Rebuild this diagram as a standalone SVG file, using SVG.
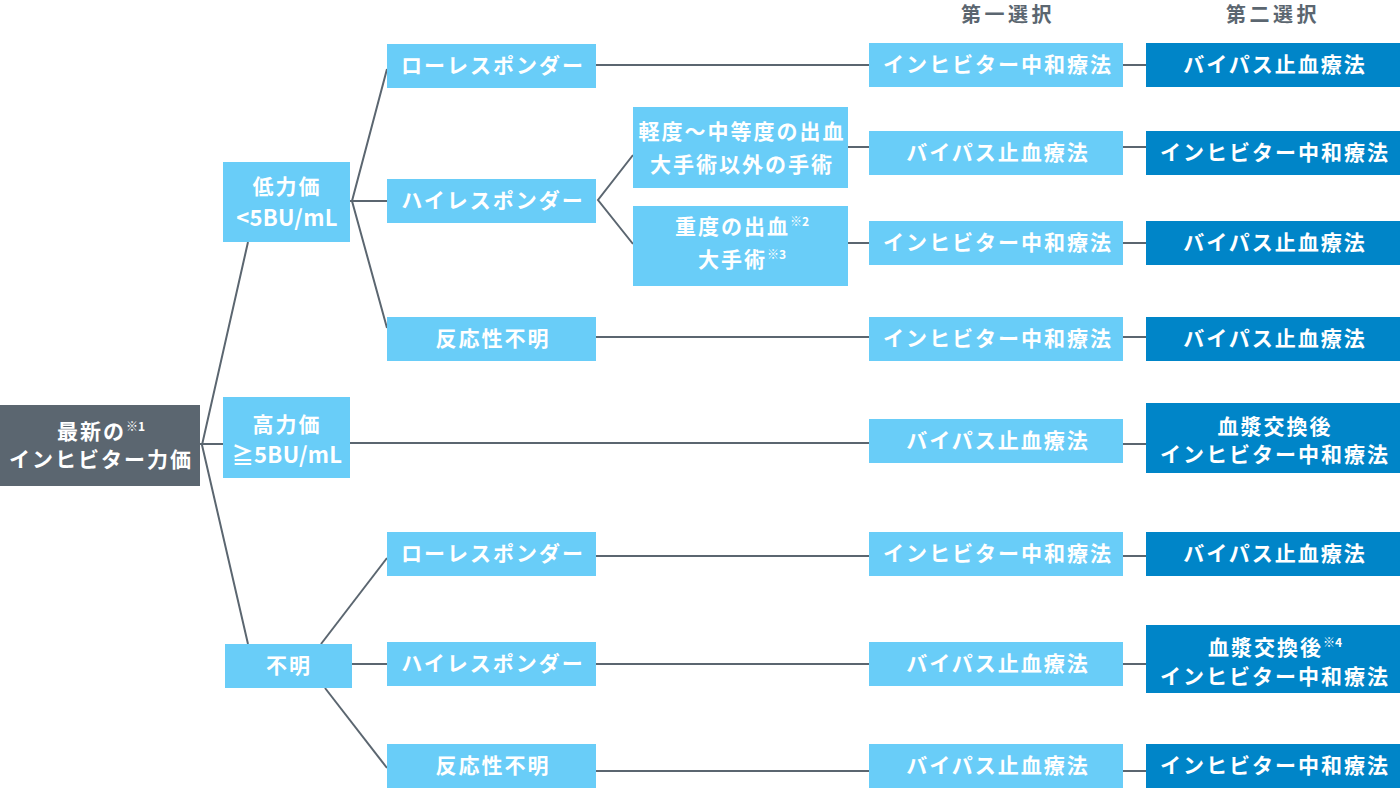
<svg xmlns="http://www.w3.org/2000/svg" width="1400" height="788" viewBox="0 0 1400 788">
<style>
.t{font-family:"Noto Sans CJK JP","Noto Sans",sans-serif;font-weight:bold;font-size:21px;fill:#fff;text-anchor:middle;letter-spacing:2px}
.l{font-size:22px;letter-spacing:0.3px}
.h{font-family:"Noto Sans CJK JP","Noto Sans",sans-serif;font-weight:bold;font-size:20px;fill:#5b6670;text-anchor:middle;letter-spacing:3.5px}
.s{font-size:12px;letter-spacing:0}
.lb{fill:#69cdf8}
.db{fill:#0085c8}
.gr{fill:#5b6670}
.c{stroke:#5b6670;stroke-width:2;fill:none}
</style>
<rect width="1400" height="788" fill="#fff"/>
<g id="connectors" class="c">
<polyline points="248,242 202,445 248,644"/>
<line x1="200" y1="444" x2="223" y2="444"/>
<line x1="350" y1="443" x2="869" y2="443"/>
<polyline points="387,69 352,201 387,328"/>
<line x1="350" y1="201" x2="387" y2="201"/>
<polyline points="633,155 598,200 633,244"/>
<line x1="596" y1="65" x2="869" y2="65"/>
<line x1="848" y1="147" x2="869" y2="147"/>
<line x1="848" y1="243" x2="869" y2="243"/>
<line x1="596" y1="337" x2="869" y2="337"/>
<polyline points="321,644 387,558"/>
<line x1="352" y1="664" x2="387" y2="664"/>
<polyline points="325,688 387,768"/>
<line x1="596" y1="556" x2="869" y2="556"/>
<line x1="596" y1="664" x2="869" y2="664"/>
<line x1="596" y1="771" x2="869" y2="771"/>
<line x1="1123" y1="65" x2="1146" y2="65"/>
<line x1="1123" y1="147" x2="1146" y2="147"/>
<line x1="1123" y1="243" x2="1146" y2="243"/>
<line x1="1123" y1="337" x2="1146" y2="337"/>
<line x1="1123" y1="444" x2="1146" y2="444"/>
<line x1="1123" y1="556" x2="1146" y2="556"/>
<line x1="1123" y1="664" x2="1146" y2="664"/>
<line x1="1123" y1="771" x2="1146" y2="771"/>
</g>
<g id="headers">
<text class="h" x="1008" y="22">第一選択</text>
<text class="h" x="1273" y="22">第二選択</text>
</g>
<g id="root"><rect class="gr" x="0" y="405" width="200" height="81"/>
<text class="t" x="101" y="439">最新の<tspan class="s" dy="-8">※1</tspan></text>
<text class="t" x="101" y="467">インヒビター力価</text></g>
<g id="low"><rect class="lb" x="223" y="162" width="127" height="80"/>
<text class="t" x="287" y="194">低力価</text>
<text class="t l" x="287" y="226">&lt;5BU/mL</text></g>
<g id="high"><rect class="lb" x="223" y="397" width="127" height="81"/>
<text class="t" x="287" y="432">高力価</text>
<text class="t l" x="287" y="463">≧5BU/mL</text></g>
<g id="unknown"><rect class="lb" x="225" y="644" width="127" height="44"/>
<text class="t" x="289" y="673">不明</text></g>
<g id="low-lr"><rect class="lb" x="387" y="44" width="209" height="44"/><text class="t" x="493" y="73">ローレスポンダー</text></g>
<g id="low-hr"><rect class="lb" x="387" y="179" width="209" height="44"/><text class="t" x="493" y="208">ハイレスポンダー</text></g>
<g id="low-unk"><rect class="lb" x="387" y="317" width="209" height="44"/><text class="t" x="493" y="346">反応性不明</text></g>
<g id="unk-lr"><rect class="lb" x="387" y="532" width="209" height="44"/><text class="t" x="493" y="561">ローレスポンダー</text></g>
<g id="unk-hr"><rect class="lb" x="387" y="642" width="209" height="44"/><text class="t" x="493" y="671">ハイレスポンダー</text></g>
<g id="unk-unk"><rect class="lb" x="387" y="744" width="209" height="44"/><text class="t" x="493" y="773">反応性不明</text></g>
<g id="mild"><rect class="lb" x="633" y="107" width="215" height="81"/>
<text class="t" x="742" y="139">軽度〜中等度の出血</text>
<text class="t" x="742" y="172">大手術以外の手術</text></g>
<g id="severe"><rect class="lb" x="633" y="206" width="215" height="80"/>
<text class="t" x="742" y="234">重度の出血<tspan class="s" dy="-8">※2</tspan></text>
<text class="t" x="742" y="267">大手術<tspan class="s" dy="-8">※3</tspan></text></g>
<g id="f1"><rect class="lb" x="869" y="43" width="254" height="44"/><text class="t" x="998" y="72">インヒビター中和療法</text></g>
<g id="f2"><rect class="lb" x="869" y="131" width="254" height="44"/><text class="t" x="998" y="160">バイパス止血療法</text></g>
<g id="f3"><rect class="lb" x="869" y="221" width="254" height="44"/><text class="t" x="998" y="250">インヒビター中和療法</text></g>
<g id="f4"><rect class="lb" x="869" y="317" width="254" height="44"/><text class="t" x="998" y="346">インヒビター中和療法</text></g>
<g id="f5"><rect class="lb" x="869" y="419" width="254" height="44"/><text class="t" x="998" y="448">バイパス止血療法</text></g>
<g id="f6"><rect class="lb" x="869" y="532" width="254" height="44"/><text class="t" x="998" y="561">インヒビター中和療法</text></g>
<g id="f7"><rect class="lb" x="869" y="642" width="254" height="44"/><text class="t" x="998" y="671">バイパス止血療法</text></g>
<g id="f8"><rect class="lb" x="869" y="744" width="254" height="44"/><text class="t" x="998" y="773">バイパス止血療法</text></g>
<g id="s1"><rect class="db" x="1146" y="43" width="254" height="44"/><text class="t" x="1275" y="72">バイパス止血療法</text></g>
<g id="s2"><rect class="db" x="1146" y="131" width="254" height="44"/><text class="t" x="1275" y="160">インヒビター中和療法</text></g>
<g id="s3"><rect class="db" x="1146" y="221" width="254" height="44"/><text class="t" x="1275" y="250">バイパス止血療法</text></g>
<g id="s4"><rect class="db" x="1146" y="317" width="254" height="44"/><text class="t" x="1275" y="346">バイパス止血療法</text></g>
<g id="s5"><rect class="db" x="1146" y="403" width="254" height="70"/>
<text class="t" x="1275" y="434">血漿交換後</text>
<text class="t" x="1275" y="462">インヒビター中和療法</text></g>
<g id="s6"><rect class="db" x="1146" y="532" width="254" height="44"/><text class="t" x="1275" y="561">バイパス止血療法</text></g>
<g id="s7"><rect class="db" x="1146" y="625" width="254" height="68"/>
<text class="t" x="1275" y="655">血漿交換後<tspan class="s" dy="-8">※4</tspan></text>
<text class="t" x="1275" y="684">インヒビター中和療法</text></g>
<g id="s8"><rect class="db" x="1146" y="744" width="254" height="44"/><text class="t" x="1275" y="773">インヒビター中和療法</text></g>
</svg>
